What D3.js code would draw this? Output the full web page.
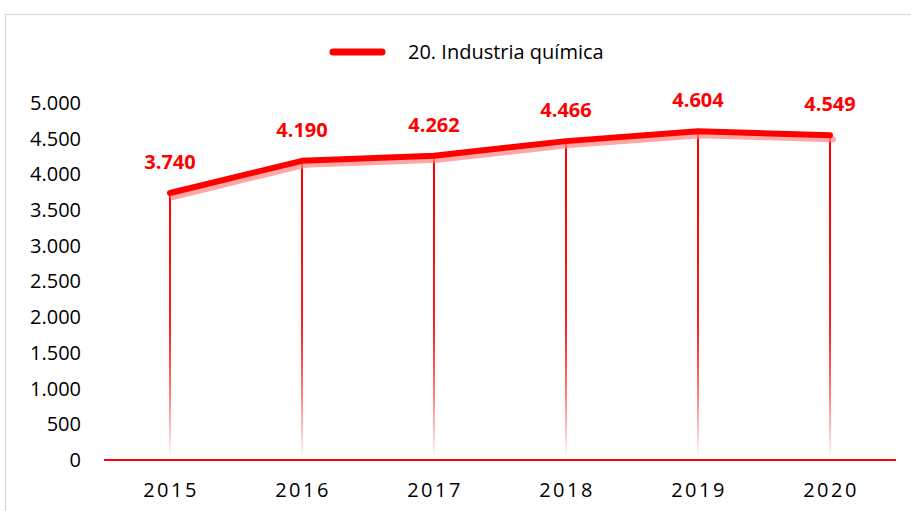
<!DOCTYPE html>
<html><head><meta charset="utf-8">
<script src="https://cdn.jsdelivr.net/npm/d3@7"></script>
<style>body{margin:0;background:#fff}svg{display:block}</style>
</head><body>
<script>
const years = ["2015","2016","2017","2018","2019","2020"];
const values = [3740, 4190, 4262, 4466, 4604, 4549];
const yTicks = [0,500,1000,1500,2000,2500,3000,3500,4000,4500,5000];
const seriesName = "20. Industria química";

const W = 911, H = 511;
const svg = d3.select("body").append("svg").attr("width", W).attr("height", H);
const font = "Open Sans, Liberation Sans, sans-serif";

svg.append("rect").attr("x",5.5).attr("y",14.5).attr("width",W+10).attr("height",H+10)
  .attr("fill","#fff").attr("stroke","#d9d9d9").attr("stroke-width",1);

const x = d3.scaleBand().domain(years).range([104, 896]);
const y = d3.scaleLinear().domain([0, 5000]).range([460, 103]);

const defs = svg.append("defs");
const grad = defs.append("linearGradient").attr("id","drop").attr("gradientUnits","userSpaceOnUse")
  .attr("x1",0).attr("x2",0).attr("y1",y(3700)).attr("y2",y(0));
grad.append("stop").attr("offset","0%").attr("stop-color","#ff0000");
grad.append("stop").attr("offset","50%").attr("stop-color","#ff2020");
grad.append("stop").attr("offset","72%").attr("stop-color","#ff7070");
grad.append("stop").attr("offset","100%").attr("stop-color","#ffffff");

const fmt = d => d3.format(",")(d).replace(/,/g, ".");

// y axis labels
const yAxis = d3.axisLeft(y).tickValues(yTicks).tickSize(0).tickPadding(0).tickFormat(fmt);
const ga = svg.append("g").attr("transform","translate(81,0)").call(yAxis);
ga.select(".domain").remove();
ga.selectAll("text").attr("font-family",font).attr("font-size",20).attr("fill","#000");

// x axis line
svg.append("line").attr("x1",104).attr("x2",896).attr("y1",y(0)).attr("y2",y(0))
  .attr("stroke","#ff0000").attr("stroke-width",2);

// drop lines
const cx = d => x(d) + x.bandwidth()/2;
svg.selectAll(".drop").data(years).enter().append("line")
  .attr("x1",d=>cx(d)).attr("x2",d=>cx(d))
  .attr("y1",(d,i)=>y(values[i])).attr("y2",y(0)-1)
  .attr("stroke","url(#drop)").attr("stroke-width",2);

// x labels
const gx = svg.append("g").attr("transform",`translate(0,${y(0)})`)
  .call(d3.axisBottom(x).tickSize(0).tickPadding(23));
gx.select(".domain").remove();
gx.selectAll("text").attr("font-family",font).attr("font-size",20).attr("fill","#000")
  .attr("letter-spacing","2.5px").attr("dx","1px");

// line with shadow
const line = d3.line().x((d,i)=>cx(years[i])).y(d=>y(d));
svg.append("path").datum(values).attr("d",line).attr("transform","translate(3,4)")
  .attr("fill","none").attr("stroke","#ff8080").attr("stroke-opacity",0.7).attr("stroke-width",6)
  .attr("stroke-linecap","round").attr("stroke-linejoin","round");
svg.append("path").datum(values).attr("d",line)
  .attr("fill","none").attr("stroke","#ff0000").attr("stroke-width",6)
  .attr("stroke-linecap","round").attr("stroke-linejoin","round");

// data labels
svg.selectAll(".lbl").data(values).enter().append("text")
  .attr("x",(d,i)=>cx(years[i])).attr("y",d=>y(d)-24)
  .attr("text-anchor","middle").attr("font-family",font).attr("font-weight","bold")
  .attr("font-size",20).attr("fill","#ff0000")
  .text(fmt);

// legend
svg.append("line").attr("x1",333).attr("x2",382).attr("y1",52).attr("y2",52)
  .attr("stroke","#ff0000").attr("stroke-width",7).attr("stroke-linecap","round");
svg.append("text").attr("x",408).attr("y",59).attr("font-family",font).attr("font-size",20)
  .attr("fill","#000").text(seriesName);
</script>
</body></html>
